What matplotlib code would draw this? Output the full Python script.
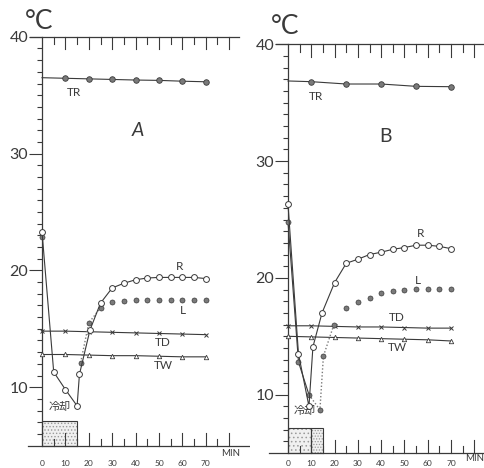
import matplotlib
matplotlib.use('Agg')
import matplotlib.pyplot as plt
from matplotlib.ticker import FixedLocator

plt.rcParams['font.family'] = ['Lato', 'DejaVu Sans']
plt.rcParams['hatch.linewidth'] = 0.6
plt.rcParams['hatch.color'] = '#9a9a9a'

INK = '#3a3a3a'
DOT = '#7a7a7a'

# ---- panel A ----
a_tr_t = [0, 10, 20, 30, 40, 50, 60, 70]
a_tr = [36.5, 36.45, 36.4, 36.35, 36.3, 36.27, 36.2, 36.15]
a_r_t = [0, 5, 10, 15, 16, 20.5, 25, 30, 35, 40, 45, 50, 55, 60, 65, 70]
a_r = [23.3, 11.3, 9.8, 8.4, 11.1, 14.9, 17.2, 18.5, 18.9, 19.2, 19.35, 19.4, 19.4, 19.4, 19.4, 19.3]
a_l_t = [0, 16.5, 20, 25, 30, 35, 40, 45, 50, 55, 60, 65, 70]
a_l = [22.9, 12.1, 15.5, 16.8, 17.3, 17.4, 17.5, 17.5, 17.5, 17.5, 17.5, 17.5, 17.5]
a_md_t = [0, 10, 20, 30, 40, 50, 60, 70]
a_md = [14.8, 14.8, 14.75, 14.7, 14.65, 14.6, 14.55, 14.5]
a_mw_t = [0, 10, 20, 30, 40, 50, 60, 70]
a_mw = [12.8, 12.8, 12.75, 12.7, 12.7, 12.65, 12.6, 12.6]
a_cool = [(0, 15, 7.1, '.....')]

# ---- panel B ----
b_tr_t = [0, 10, 25, 40, 55, 70]
b_tr = [36.86, 36.8, 36.6, 36.6, 36.4, 36.37]
b_r_t = [0, 4.5, 9, 10.7, 14.6, 20, 25, 30, 35, 40, 45, 50, 55, 60, 65, 70]
b_r = [26.3, 13.5, 9.0, 14.1, 17.0, 19.6, 21.25, 21.6, 22.0, 22.2, 22.45, 22.6, 22.8, 22.8, 22.7, 22.5]
b_l_t = [0, 4.5, 9, 13.7, 15.2, 19.7, 25, 30, 35, 40, 45, 50, 55, 60, 65, 70]
b_l = [24.8, 12.8, 10.0, 8.7, 13.3, 16.0, 17.4, 17.95, 18.25, 18.7, 18.9, 19.0, 19.05, 19.05, 19.05, 19.05]
b_md_t = [0, 10, 20, 30, 40, 50, 60, 70]
b_md = [15.9, 15.9, 15.85, 15.8, 15.8, 15.75, 15.7, 15.7]
b_mw_t = [0, 10, 20, 30, 40, 50, 60, 70]
b_mw = [15.0, 14.95, 14.9, 14.85, 14.8, 14.75, 14.7, 14.6]
b_cool = [(0, 10, 7.15, '....'), (10, 5, 7.15, '......')]

x_major = [0, 10, 20, 30, 40, 50, 60, 70, 80]
x_labels = ['0', '10', '20', '30', '40', '50', '60', '70', '']
x_minor = [5, 15, 25, 35, 45, 55, 65, 75]
y_major = [10, 20, 30, 40]
y_minor = list(range(6, 40))


def tick_path(xs, y0, y1):
    # one polyline for a row of tick marks, broken up by None
    px, py = [], []
    for x in xs:
        px += [x, x, None]
        py += [y0, y1, None]
    return px, py


def setup_axes(ax, xlim, ylim, bottom_span, top_span):
    ax.set_xlim(*xlim)
    ax.set_ylim(*ylim)
    ax.patch.set_alpha(0)
    ax.spines['left'].set_color(INK)
    ax.spines['left'].set_linewidth(0.9)
    ax.spines['left'].set_position(('data', 0))
    ax.spines['left'].set_bounds(5, 40)
    for side in ['right', 'top', 'bottom']:
        ax.spines[side].set_visible(False)

    # time axes at 5 and 40 degrees with inward ticks
    ax.plot(bottom_span, [5, 5], color=INK, lw=0.9, zorder=7)
    ax.plot(top_span, [40, 40], color=INK, lw=0.9, zorder=7)
    for xs, y0, y1 in [(x_major[1:], 5, 6.1), (x_minor, 5, 5.6),
                       (x_major[1:], 38.95, 40), (x_minor, 39.35, 40)]:
        px, py = tick_path(xs, y0, y1)
        ax.plot(px, py, color=INK, lw=0.8, zorder=7)

    ax.xaxis.set_major_locator(FixedLocator(x_major))
    ax.set_xticklabels(x_labels)
    ax.tick_params(axis='x', which='both', top=False, bottom=True, length=0,
                   labeltop=False, colors=INK, labelsize=6, pad=0)
    ax.set_yticks(y_major)
    ax.yaxis.set_minor_locator(FixedLocator(y_minor))
    ax.tick_params(axis='y', which='both', direction='out', left=True, right=False,
                   colors=INK, width=0.8, labelsize=11.5, pad=0.5)
    ax.tick_params(axis='y', which='major', length=9.5)
    ax.tick_params(axis='y', which='minor', length=3.5)


def draw_panel(ax, tr_t, tr, r_t, r, l_t, l, md_t, md, mw_t, mw, cool,
               l_solid, l_dotted):
    # cooling period
    for start, width, top, hatch in cool:
        ax.bar(start, top - 5, width=width, bottom=5, align='edge',
               facecolor='#f0f0f0', edgecolor='#9a9a9a', hatch=hatch, lw=0, zorder=1)
        ax.bar(start, top - 5, width=width, bottom=5, align='edge',
               facecolor='none', edgecolor=INK, lw=0.8, zorder=2)

    ax.plot(tr_t, tr, color=INK, lw=0.8, zorder=3)
    ax.plot(tr_t[1:], tr[1:], 'o', ms=4, mfc=DOT, mec=INK, mew=0.6, zorder=4)

    ax.plot(md_t, md, color=INK, lw=0.8, marker='x', ms=3, mew=0.7, zorder=3)
    ax.plot(mw_t, mw, color=INK, lw=0.8, marker='^', ms=3.2, mfc='white',
            mec=INK, mew=0.6, zorder=3)

    ax.plot(l_t[l_solid[0]:l_solid[1]], l[l_solid[0]:l_solid[1]],
            color=INK, lw=0.8, zorder=3)
    ax.plot(l_t[l_dotted[0]:l_dotted[1]], l[l_dotted[0]:l_dotted[1]],
            color=DOT, lw=1.0, ls=(0, (1, 1.5)), zorder=3)
    ax.plot(l_t, l, 'o', ms=3.6, mfc=DOT, mec=INK, mew=0.5, zorder=5)

    ax.plot(r_t, r, color=INK, lw=0.8, marker='o', ms=4.2, mfc='white',
            mec=INK, mew=0.7, zorder=6)


fig = plt.figure(figsize=(4.85, 4.68), dpi=100)

# panel A: 40 °C at 36.8 px from the top, 5 °C at 445.6 px
ax_a = fig.add_axes([10 / 485, 8 / 468, 240 / 485, 440 / 468])
draw_panel(ax_a, a_tr_t, a_tr, a_r_t, a_r, a_l_t, a_l, a_md_t, a_md,
           a_mw_t, a_mw, a_cool, (0, 1), (1, 4))
setup_axes(ax_a, (-13.68, 88.89), (3.767, 41.44), [-6, 88.5], [-5, 84])

# panel B: 40 °C at 44.3 px, 5 °C at 453.1 px
ax_b = fig.add_axes([255 / 485, 8 / 468, 230 / 485, 440 / 468])
draw_panel(ax_b, b_tr_t, b_tr, b_r_t, b_r, b_l_t, b_l, b_md_t, b_md,
           b_mw_t, b_mw, b_cool, (0, 3), (2, 6))
setup_axes(ax_b, (-14.16, 84.55), (4.41, 42.08), [-8, 90], [-5, 84])

# annotations
txt = dict(color=INK, ha='center', va='center')
for ax, pos in [(ax_a, {'°C': (-1.3, 41.3), 'TR': (13.7, 35.2), 'A': (41, 32.0),
                        'R': (59, 20.3), 'L': (60.3, 16.6), 'TD': (51.7, 13.8),
                        'TW': (51.7, 11.9), 'MIN': (80.8, 4.3), '冷却': (7.7, 8.3)}),
                (ax_b, {'°C': (-1.3, 41.5), 'TR': (12.0, 35.5), 'B': (42, 32.1),
                        'R': (56.7, 23.8), 'L': (55.8, 19.8), 'TD': (46.8, 16.65),
                        'TW': (46.8, 14.0), 'MIN': (80.0, 4.55), '冷却': (7.3, 8.6)})]:
    for s, (x, y) in pos.items():
        if s == '°C':
            ax.text(x, y, s, fontsize=19, **txt)
        elif s in ('A', 'B'):
            ax.text(x, y, s, fontsize=14, style='italic' if s == 'A' else 'normal', **txt)
        elif s == 'MIN':
            ax.text(x, y, s, fontsize=7, **txt)
        elif s == '冷却':
            ax.text(x, y, s, fontsize=8, family=['Noto Sans CJK JP', 'DejaVu Sans'], **txt)
        else:
            ax.text(x, y, s, fontsize=8.5, **txt)

fig.savefig('out.png', dpi=100)
